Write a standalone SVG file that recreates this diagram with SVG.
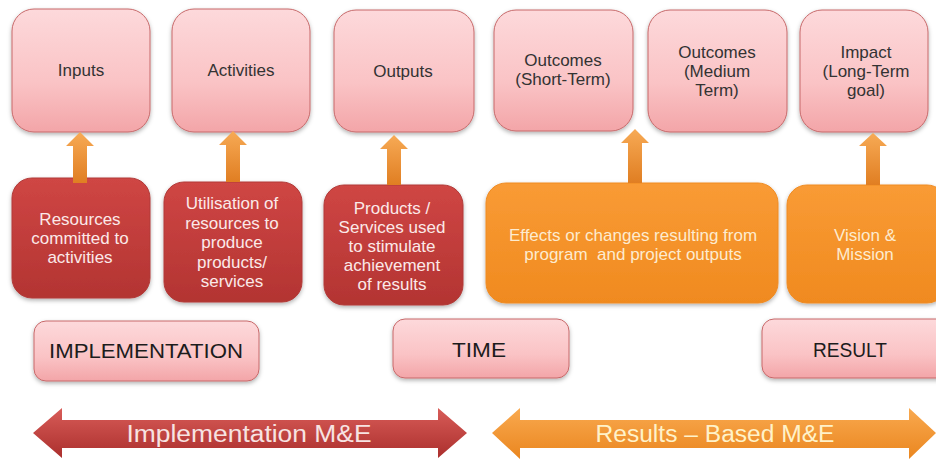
<svg xmlns="http://www.w3.org/2000/svg" width="936" height="461" viewBox="0 0 936 461">
  <style>
    text { font-family: "Liberation Sans", Arial, sans-serif; text-anchor: middle; }
    .stage { fill: url(#pink); stroke: #c7696a; stroke-width: 1; filter: url(#shadow); }
    .desc-red { fill: url(#red); stroke: #b13a38; stroke-width: 1; filter: url(#shadow); }
    .desc-org { fill: url(#orange); stroke: #ef8b22; stroke-width: 1; filter: url(#shadow); }
    .up { fill: url(#upArrow); }
    .t-stage { font-size: 17px; fill: #333333; }
    .t-red { font-size: 17px; fill: #fbe9e9; }
    .t-org { font-size: 17px; fill: #fdebcf; }
    .t-phase { font-size: 21px; fill: #1c1c1c; }
    .t-band { font-size: 23px; }
  </style>
  <defs>
    <linearGradient id="pink" x1="0" y1="0" x2="0" y2="1">
      <stop offset="0" stop-color="#fdd9db"/>
      <stop offset="0.6" stop-color="#fac3c5"/>
      <stop offset="1" stop-color="#f3a5a8"/>
    </linearGradient>
    <linearGradient id="red" x1="0" y1="0" x2="0" y2="1">
      <stop offset="0" stop-color="#cf4644"/>
      <stop offset="1" stop-color="#b33432"/>
    </linearGradient>
    <linearGradient id="orange" x1="0" y1="0" x2="0" y2="1">
      <stop offset="0" stop-color="#f99b35"/>
      <stop offset="1" stop-color="#f08a1f"/>
    </linearGradient>
    <linearGradient id="upArrow" x1="0" y1="0" x2="0" y2="1">
      <stop offset="0" stop-color="#f7aa55"/>
      <stop offset="1" stop-color="#e07e22"/>
    </linearGradient>
    <linearGradient id="bandRed" x1="0" y1="0" x2="0" y2="1">
      <stop offset="0" stop-color="#d85c58"/>
      <stop offset="1" stop-color="#ab2f2d"/>
    </linearGradient>
    <linearGradient id="bandOrange" x1="0" y1="0" x2="0" y2="1">
      <stop offset="0" stop-color="#f9a94f"/>
      <stop offset="1" stop-color="#ea861f"/>
    </linearGradient>
    <filter id="shadow" x="-10%" y="-10%" width="120%" height="130%">
      <feDropShadow dx="0" dy="2" stdDeviation="2" flood-color="#000" flood-opacity="0.3"/>
    </filter>
  </defs>

  <!-- result chain stages -->
  <g id="inputs">
    <rect class="stage" x="12" y="9" width="138" height="123" rx="22"/>
    <text class="t-stage" x="81" y="76">Inputs</text>
  </g>
  <g id="activities">
    <rect class="stage" x="172" y="9" width="138" height="123" rx="22"/>
    <text class="t-stage" x="241" y="76">Activities</text>
  </g>
  <g id="outputs">
    <rect class="stage" x="334" y="10" width="140" height="122" rx="22"/>
    <text class="t-stage" x="403" y="77">Outputs</text>
  </g>
  <g id="outcomes-short">
    <rect class="stage" x="494" y="10" width="139" height="121" rx="22"/>
    <text class="t-stage" x="563" y="66">Outcomes</text>
    <text class="t-stage" x="563" y="85">(Short-Term)</text>
  </g>
  <g id="outcomes-medium">
    <rect class="stage" x="648" y="10" width="139" height="122" rx="22"/>
    <text class="t-stage" x="717" y="58">Outcomes</text>
    <text class="t-stage" x="717" y="77">(Medium</text>
    <text class="t-stage" x="717" y="96">Term)</text>
  </g>
  <g id="impact">
    <rect class="stage" x="800" y="10" width="128" height="122" rx="22"/>
    <text class="t-stage" x="866" y="58">Impact</text>
    <text class="t-stage" x="866" y="77">(Long-Term</text>
    <text class="t-stage" x="866" y="96">goal)</text>
  </g>

  <!-- descriptions -->
  <g id="desc-inputs">
    <rect class="desc-red" x="12" y="178" width="138" height="120" rx="20"/>
    <text class="t-red" x="80" y="225">Resources</text>
    <text class="t-red" x="80" y="244">committed to</text>
    <text class="t-red" x="80" y="263">activities</text>
  </g>
  <g id="desc-activities">
    <rect class="desc-red" x="164" y="182" width="138" height="120" rx="20"/>
    <text class="t-red" x="232" y="209">Utilisation of</text>
    <text class="t-red" x="232" y="229">resources to</text>
    <text class="t-red" x="232" y="248">produce</text>
    <text class="t-red" x="232" y="268">products/</text>
    <text class="t-red" x="232" y="287">services</text>
  </g>
  <g id="desc-outputs">
    <rect class="desc-red" x="324" y="185" width="139" height="120" rx="20"/>
    <text class="t-red" x="392" y="214">Products /</text>
    <text class="t-red" x="392" y="233">Services used</text>
    <text class="t-red" x="392" y="252">to stimulate</text>
    <text class="t-red" x="392" y="271">achievement</text>
    <text class="t-red" x="392" y="290">of results</text>
  </g>
  <g id="desc-outcomes">
    <rect class="desc-org" x="486" y="183" width="292" height="120" rx="20"/>
    <text class="t-org" x="633" y="241">Effects or changes resulting from</text>
    <text class="t-org" x="633" y="260" style="white-space:pre">program  and project outputs</text>
  </g>
  <g id="desc-impact">
    <rect class="desc-org" x="787" y="185" width="160" height="118" rx="20"/>
    <text class="t-org" x="865" y="241">Vision &amp;</text>
    <text class="t-org" x="865" y="260">Mission</text>
  </g>

  <!-- phase labels -->
  <g id="phase-implementation">
    <rect class="stage" x="34" y="321" width="225" height="60" rx="12"/>
    <text class="t-phase" x="146" y="358" textLength="194" lengthAdjust="spacingAndGlyphs">IMPLEMENTATION</text>
  </g>
  <g id="phase-time">
    <rect class="stage" x="393" y="319" width="176" height="59" rx="12"/>
    <text class="t-phase" x="479" y="357" textLength="54" lengthAdjust="spacingAndGlyphs">TIME</text>
  </g>
  <g id="phase-result">
    <rect class="stage" x="762" y="319" width="190" height="59" rx="12"/>
    <text class="t-phase" x="850" y="357" textLength="74" lengthAdjust="spacingAndGlyphs">RESULT</text>
  </g>

  <!-- connectors: upward arrows and the two M&E bands -->
  <g id="connectors">
    <path class="up" d="M80 132 L94 146 L87 146 L87 183 L73 183 L73 146 L66 146 Z"/>
    <path class="up" d="M233 131 L247 145 L240 145 L240 182 L226 182 L226 145 L219 145 Z"/>
    <path class="up" d="M394 135 L408 149 L401 149 L401 185 L387 185 L387 149 L380 149 Z"/>
    <path class="up" d="M635 129 L649 143 L642 143 L642 183 L628 183 L628 143 L621 143 Z"/>
    <path class="up" d="M873 133 L887 146 L880 146 L880 185 L866 185 L866 146 L859 146 Z"/>

    <g id="band-implementation">
      <path fill="url(#bandRed)" d="M33 433 L62 408 L62 420 L438 420 L438 408 L467 433 L438 458 L438 448 L62 448 L62 458 Z"/>
      <text class="t-band" x="249" y="442" fill="#f7e3e2" textLength="245" lengthAdjust="spacingAndGlyphs">Implementation M&amp;E</text>
    </g>
    <g id="band-results">
      <path fill="url(#bandOrange)" d="M492 433 L520 408 L520 420 L909 420 L909 408 L936 433 L909 459 L909 448 L520 448 L520 459 Z"/>
      <text class="t-band" x="715" y="442" fill="#fff2c9" textLength="239" lengthAdjust="spacingAndGlyphs">Results – Based M&amp;E</text>
    </g>
  </g>
</svg>
